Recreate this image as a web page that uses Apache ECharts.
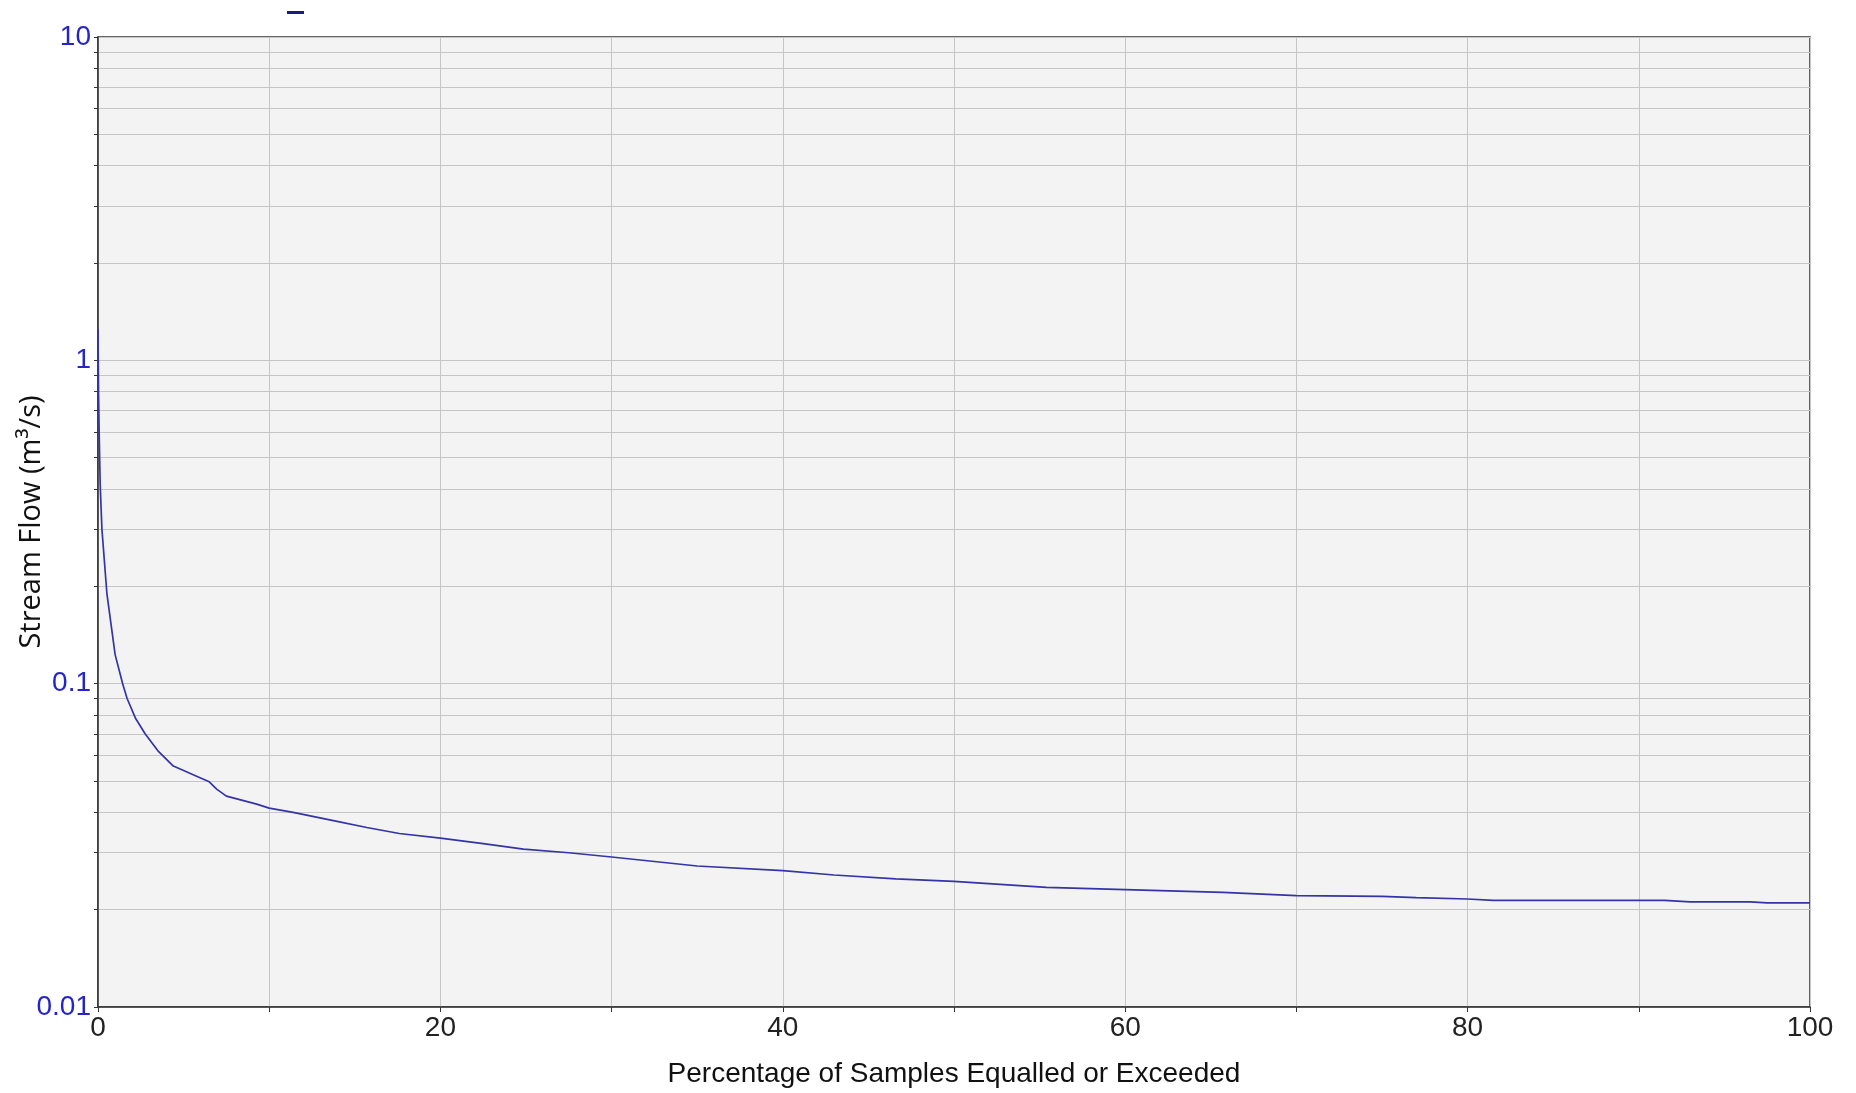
<!DOCTYPE html>
<html>
<head>
<meta charset="utf-8">
<script src="https://cdn.jsdelivr.net/npm/echarts@6/dist/echarts.min.js"></script>
<style>
html,body{margin:0;padding:0;background:#fff;}
#chart{width:1856px;height:1093px;}
</style>
</head>
<body>
<div id="chart"></div>
<script>
// Percentage of samples equalled or exceeded
const pct = [0, 0.03, 0.08, 0.13, 0.23, 0.52, 1.0, 1.44, 1.7, 2.2, 2.75, 3.5, 4.4, 5.96, 6.5, 6.93, 7.5, 9.27, 10.0, 11.4, 13.75, 15.7, 17.6, 20, 22.5, 24.85, 27.5, 30, 35, 40, 43, 46.6, 50, 55.4, 60, 65.7, 70, 75, 77, 80, 81.5, 91.5, 93, 96.5, 97.5, 100];
// Stream flow (m3/s)
const flow = [1.25, 0.8, 0.55, 0.41, 0.30, 0.19, 0.123, 0.1, 0.09, 0.078, 0.07, 0.062, 0.0556, 0.0512, 0.0497, 0.0472, 0.0449, 0.0424, 0.0412, 0.040, 0.0377, 0.0359, 0.0344, 0.0333, 0.032, 0.0308, 0.030, 0.0291, 0.0273, 0.0264, 0.0256, 0.0249, 0.02446, 0.02344, 0.02306, 0.02263, 0.0221, 0.0220, 0.02178, 0.02158, 0.02138, 0.02138, 0.02113, 0.02113, 0.02099, 0.02099];
// Axis tick values
const xTickLabels = [0, 20, 40, 60, 80, 100];
const yTickLabels = [0.01, 0.1, 1, 10];
const yGridValues = [0.01,0.02,0.03,0.04,0.05,0.06,0.07,0.08,0.09,0.1,0.2,0.3,0.4,0.5,0.6,0.7,0.8,0.9,1,2,3,4,5,6,7,8,9,10];

const seriesData = pct.map((p, i) => [p, flow[i]]);

const chart = echarts.init(document.getElementById('chart'));
chart.setOption({
  animation: false,
  backgroundColor: '#ffffff',
  legend: {
    data: [{name: ' ', icon: 'rect', itemStyle: {color: '#1a1a80'}}],
    left: 287, top: 11, padding: 0,
    itemWidth: 17, itemHeight: 3,
    textStyle: {fontSize: 2}
  },
  grid: {
    left: 98, right: 46, top: 37, bottom: 85,
    show: true,
    backgroundColor: '#f3f3f3',
    borderColor: '#333333',
    borderWidth: 1.5
  },
  xAxis: {
    type: 'value',
    min: 0, max: 100, interval: 10,
    name: 'Percentage of Samples Equalled or Exceeded',
    nameLocation: 'middle',
    nameGap: 53,
    nameMoveOverlap: false,
    nameTextStyle: {fontFamily: 'Liberation Sans', fontSize: 28, color: '#111'},
    axisLine: {show: true, lineStyle: {color: '#333', width: 1.5}},
    axisTick: {show: true, inside: false, length: 5, lineStyle: {color: '#333'}},
    axisLabel: {
      customValues: xTickLabels,
      fontFamily: 'Liberation Sans', fontSize: 28, color: '#222', margin: 7
    },
    splitLine: {show: true, lineStyle: {color: '#c6c6c6', width: 1}}
  },
  yAxis: {
    type: 'log',
    logBase: 10,
    min: 0.01, max: 10,
    name: 'Stream Flow (m³/s)',
    nameLocation: 'middle',
    nameGap: 52,
    nameMoveOverlap: false,
    nameTextStyle: {fontFamily: 'Open Sans', fontSize: 29, color: '#111'},
    axisLine: {show: true, lineStyle: {color: '#333', width: 1.5}},
    axisTick: {show: true, inside: false, length: 4, customValues: yGridValues, lineStyle: {color: '#333'}},
    axisLabel: {
      customValues: yTickLabels,
      fontFamily: 'Liberation Sans', fontSize: 28, color: '#2424c8', margin: 7,
      formatter: v => String(v)
    },
    splitLine: {show: true, lineStyle: {color: '#c6c6c6', width: 1}}
  },
  series: [{
    name: ' ',
    type: 'line',
    data: seriesData,
    showSymbol: false,
    symbol: 'none',
    lineStyle: {color: '#3434a8', width: 1.7},
    itemStyle: {color: '#3434a8'}
  }]
});
</script>
</body>
</html>
